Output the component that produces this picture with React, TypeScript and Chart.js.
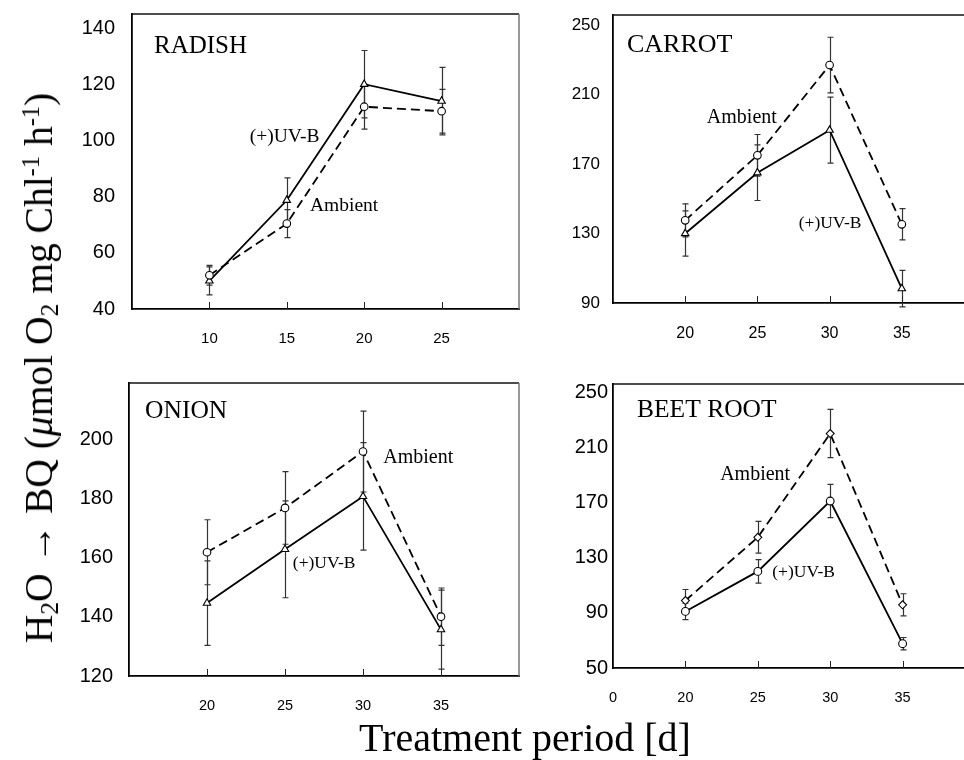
import React, { useEffect, useRef } from "react";
import { Chart, registerables } from "chart.js";

Chart.register(...registerables);

// ---------- DATA ----------
// RADISH
const radishDays = [10, 15, 20, 25];
const radishXTicks = [10, 15, 20, 25];
const radishYTicks = [40, 60, 80, 100, 120, 140];
const radishUVB = [50, 78.7, 120, 114];
const radishUVBErr = [5, 8, 12, 12];
const radishAmbient = [52, 70.4, 112, 110.4];
const radishAmbientErr = [3.5, 5, 8, 7.8];

// CARROT
const carrotDays = [20, 25, 30, 35];
const carrotXTicks = [20, 25, 30, 35];
const carrotYTicks = [90, 130, 170, 210, 250];
const carrotUVB = [130, 165, 189.5, 98.3];
const carrotUVBErr = [13, 16, 19, 10.5];
const carrotAmbient = [137.6, 175, 227, 135.3];
const carrotAmbientErr = [9.5, 12, 16, 9];

// ONION
const onionDays = [20, 25, 30, 35];
const onionXTicks = [20, 25, 30, 35];
const onionYTicks = [120, 140, 160, 180, 200];
const onionUVB = [144.7, 162.9, 180.8, 135.7];
const onionUVBErr = [14.3, 16.4, 18.2, 13.4];
const onionAmbient = [161.9, 176.9, 196, 140.1];
const onionAmbientErr = [11, 12.3, 13.7, 9.7];

// BEET ROOT
const beetDays = [20, 25, 30, 35];
const beetXTicks = [15, 20, 25, 30, 35];
const beetYTicks = [50, 90, 130, 170, 210, 250];
const beetUVB = [91, 120, 171, 67.6];
const beetUVBErr = [6, 8.5, 12, 4.5];
const beetAmbient = [98.9, 144.7, 219.9, 95.8];
const beetAmbientErr = [8, 11.5, 17.5, 8];

const SERIF = '"Liberation Serif", "Times New Roman", serif';
const SANS = '"Liberation Sans", Arial, sans-serif';

type Label = { text: string; x: number; y: number; size: number };
type Panel = {
  key: string;
  L: number; T: number; R: number; B: number;
  xMin: number; xMax: number; yMin: number; yMax: number;
  days: number[]; xTicks: number[]; yTicks: number[];
  uvb: number[]; uvbErr: number[]; amb: number[]; ambErr: number[];
  uvbStyle: string; ambStyle: string;
  yFont: number; yPad: number; xFont: number;
  zeroAt?: number; rightBorder: boolean;
  labels: Label[];
};

const panels: Panel[] = [
  {
    key: "radish", L: 132, T: 14, R: 519, B: 309,
    xMin: 5, xMax: 30, yMin: 40, yMax: 145,
    days: radishDays, xTicks: radishXTicks, yTicks: radishYTicks,
    uvb: radishUVB, uvbErr: radishUVBErr, amb: radishAmbient, ambErr: radishAmbientErr,
    uvbStyle: "triangle", ambStyle: "circle",
    yFont: 20, yPad: 17, xFont: 15, rightBorder: true,
    labels: [
      { text: "RADISH", x: 6.42, y: 131.1, size: 25 },
      { text: "(+)UV-B", x: 12.6, y: 99.4, size: 19.5 },
      { text: "Ambient", x: 16.5, y: 74.9, size: 19.5 },
    ],
  },
  {
    key: "carrot", L: 613, T: 15, R: 974, B: 303,
    xMin: 15, xMax: 40, yMin: 90, yMax: 255.8,
    days: carrotDays, xTicks: carrotXTicks, yTicks: carrotYTicks,
    uvb: carrotUVB, uvbErr: carrotUVBErr, amb: carrotAmbient, ambErr: carrotAmbientErr,
    uvbStyle: "triangle", ambStyle: "circle",
    yFont: 17, yPad: 13, xFont: 16, rightBorder: true,
    labels: [
      { text: "CARROT", x: 15.97, y: 234.5, size: 26 },
      { text: "Ambient", x: 21.5, y: 193.6, size: 20 },
      { text: "(+)UV-B", x: 27.86, y: 133.2, size: 17.5 },
    ],
  },
  {
    key: "onion", L: 129, T: 383, R: 519, B: 676,
    xMin: 15, xMax: 40, yMin: 120, yMax: 219.2,
    days: onionDays, xTicks: onionXTicks, yTicks: onionYTicks,
    uvb: onionUVB, uvbErr: onionUVBErr, amb: onionAmbient, ambErr: onionAmbientErr,
    uvbStyle: "triangle", ambStyle: "circle",
    yFont: 20, yPad: 16, xFont: 14.5, rightBorder: true,
    labels: [
      { text: "ONION", x: 16.03, y: 207.3, size: 25.5 },
      { text: "Ambient", x: 31.3, y: 192.1, size: 20 },
      { text: "(+)UV-B", x: 25.5, y: 156.5, size: 17.5 },
    ],
  },
  {
    key: "beet", L: 613, T: 384, R: 975, B: 668,
    xMin: 15, xMax: 40, yMin: 50, yMax: 255.8,
    days: beetDays, xTicks: beetXTicks, yTicks: beetYTicks,
    uvb: beetUVB, uvbErr: beetUVBErr, amb: beetAmbient, ambErr: beetAmbientErr,
    uvbStyle: "circle", ambStyle: "rectRot",
    yFont: 20, yPad: 5, xFont: 14.5, zeroAt: 15, rightBorder: true,
    labels: [
      { text: "BEET ROOT", x: 16.66, y: 231.9, size: 25.5 },
      { text: "Ambient", x: 22.4, y: 186.2, size: 20 },
      { text: "(+)UV-B", x: 26, y: 116, size: 17.5 },
    ],
  },
];

const YAXIS_W = 70;
const XAXIS_H = 45;
const PAD_T = 10;
const PAD_R = 10;

function decorPlugin(p: Panel) {
  return {
    id: "decor_" + p.key,
    beforeDatasetsDraw(chart: any) {
      const { ctx, scales } = chart;
      const x = scales.x;
      const y = scales.y;
      ctx.save();
      ctx.strokeStyle = "#333";
      ctx.lineWidth = 1.2;
      const series: [number[], number[]][] = [
        [p.amb, p.ambErr],
        [p.uvb, p.uvbErr],
      ];
      for (const [vals, errs] of series) {
        p.days.forEach((d, i) => {
          const px = Math.round(x.getPixelForValue(d)) + 0.5;
          const top = y.getPixelForValue(vals[i] + errs[i]);
          const bot = y.getPixelForValue(vals[i] - errs[i]);
          ctx.beginPath();
          ctx.moveTo(px, top);
          ctx.lineTo(px, bot);
          ctx.moveTo(px - 3, top);
          ctx.lineTo(px + 3, top);
          ctx.moveTo(px - 3, bot);
          ctx.lineTo(px + 3, bot);
          ctx.stroke();
        });
      }
      ctx.restore();
    },
    afterDraw(chart: any) {
      const { ctx, chartArea, scales } = chart;
      const x = scales.x;
      const y = scales.y;
      ctx.save();
      ctx.strokeStyle = "#111";
      ctx.lineWidth = 1.5;
      ctx.beginPath();
      ctx.moveTo(chartArea.left, chartArea.top);
      ctx.lineTo(chartArea.right, chartArea.top);
      ctx.stroke();
      if (p.rightBorder) {
        ctx.strokeStyle = "#777";
        ctx.lineWidth = 1.5;
        ctx.beginPath();
        ctx.moveTo(chartArea.right, chartArea.top);
        ctx.lineTo(chartArea.right, chartArea.bottom);
        ctx.stroke();
      }
      ctx.strokeStyle = "#222";
      ctx.lineWidth = 1;
      p.xTicks.forEach((t) => {
        if (p.zeroAt !== undefined && t === p.zeroAt) return;
        const px = Math.round(x.getPixelForValue(t)) + 0.5;
        ctx.beginPath();
        ctx.moveTo(px, chartArea.bottom);
        ctx.lineTo(px, chartArea.bottom - 7);
        ctx.stroke();
      });
      ctx.fillStyle = "#000";
      ctx.textAlign = "left";
      ctx.textBaseline = "alphabetic";
      p.labels.forEach((l) => {
        ctx.font = `${l.size}px ${SERIF}`;
        ctx.fillText(l.text, x.getPixelForValue(l.x), y.getPixelForValue(l.y));
      });
      ctx.restore();
    },
  };
}

function makeConfig(p: Panel): any {
  const pointCommon = {
    pointHoverRadius: 3.8,
    pointBackgroundColor: "#fff",
    pointBorderColor: "#000",
    pointBorderWidth: 1.1,
    borderColor: "#000",
    borderWidth: 1.8,
    tension: 0,
    fill: false,
  };
  return {
    type: "line",
    data: {
      datasets: [
        {
          label: "Ambient",
          data: p.days.map((d, i) => ({ x: d, y: p.amb[i] })),
          borderDash: [9, 5],
          pointStyle: p.ambStyle,
          ...pointCommon,
          pointRadius: p.ambStyle === "rectRot" ? 4 : 3.8,
        },
        {
          label: "(+)UV-B",
          data: p.days.map((d, i) => ({ x: d, y: p.uvb[i] })),
          pointStyle: p.uvbStyle,
          ...pointCommon,
          pointRadius: p.uvbStyle === "triangle" ? 4.3 : 3.9,
        },
      ],
    },
    options: {
      animation: false,
      responsive: false,
      maintainAspectRatio: false,
      events: [],
      layout: { padding: { top: PAD_T, right: PAD_R, left: 0, bottom: 0 } },
      plugins: { legend: { display: false }, tooltip: { enabled: false } },
      scales: {
        x: {
          type: "linear",
          min: p.xMin,
          max: p.xMax,
          afterBuildTicks: (s: any) => {
            s.ticks = p.xTicks.map((v) => ({ value: v }));
          },
          afterFit: (s: any) => {
            s.height = XAXIS_H;
            s.paddingLeft = 0;
            s.paddingRight = 0;
          },
          grid: { display: false, drawTicks: false },
          border: { display: true, color: "#000", width: 1.8 },
          ticks: {
            autoSkip: false,
            maxRotation: 0,
            minRotation: 0,
            padding: 21,
            color: "#000",
            font: { family: SANS, size: p.xFont },
            callback: (v: any) =>
              p.zeroAt !== undefined && v === p.zeroAt ? "0" : String(v),
          },
        },
        y: {
          type: "linear",
          min: p.yMin,
          max: p.yMax,
          afterBuildTicks: (s: any) => {
            s.ticks = p.yTicks.map((v) => ({ value: v }));
          },
          afterFit: (s: any) => {
            s.width = YAXIS_W;
            s.paddingTop = 0;
            s.paddingBottom = 0;
          },
          grid: { display: false, drawTicks: false },
          border: { display: true, color: "#000", width: 1.8 },
          ticks: {
            padding: p.yPad,
            color: "#000",
            font: { family: SANS, size: p.yFont },
            callback: (v: any) => String(v),
          },
        },
      },
    },
    plugins: [decorPlugin(p)],
  };
}

function PanelChart({ p }: { p: Panel }) {
  const ref = useRef<HTMLCanvasElement | null>(null);
  const w = p.R - p.L + YAXIS_W + PAD_R;
  const h = p.B - p.T + PAD_T + XAXIS_H;
  useEffect(() => {
    if (!ref.current) return;
    const chart = new Chart(ref.current, makeConfig(p));
    return () => chart.destroy();
  }, []);
  return (
    <canvas
      ref={ref}
      width={w}
      height={h}
      style={{
        position: "absolute",
        left: p.L - YAXIS_W,
        top: p.T - PAD_T,
        width: w,
        height: h,
      }}
    />
  );
}

const subStyle: React.CSSProperties = { fontSize: "65%", verticalAlign: "-0.25em", lineHeight: 0 };
const supStyle: React.CSSProperties = { fontSize: "62%", verticalAlign: "0.55em", lineHeight: 0 };

export default function App() {
  return (
    <div
      style={{
        position: "fixed",
        left: 0,
        top: 0,
        width: 964,
        height: 760,
        overflow: "hidden",
        background: "#fff",
      }}
    >
      {panels.map((p) => (
        <PanelChart key={p.key} p={p} />
      ))}
      <div
        style={{
          position: "absolute",
          left: 39,
          top: 368,
          transform: "translate(-50%, -50%) rotate(-90deg)",
          whiteSpace: "nowrap",
          fontFamily: SERIF,
          fontSize: 39.5,
          lineHeight: "40px",
          color: "#000",
        }}
      >
        H<span style={subStyle}>2</span>O → BQ (<i>μ</i>mol O<span style={subStyle}>2</span> mg Chl
        <span style={supStyle}>-1</span> h<span style={supStyle}>-1</span>)
      </div>
      <div
        style={{
          position: "absolute",
          left: 525,
          top: 718,
          transform: "translateX(-50%)",
          whiteSpace: "nowrap",
          fontFamily: SERIF,
          fontSize: 40,
          lineHeight: "40px",
          color: "#000",
        }}
      >
        Treatment period [d]
      </div>
    </div>
  );
}
